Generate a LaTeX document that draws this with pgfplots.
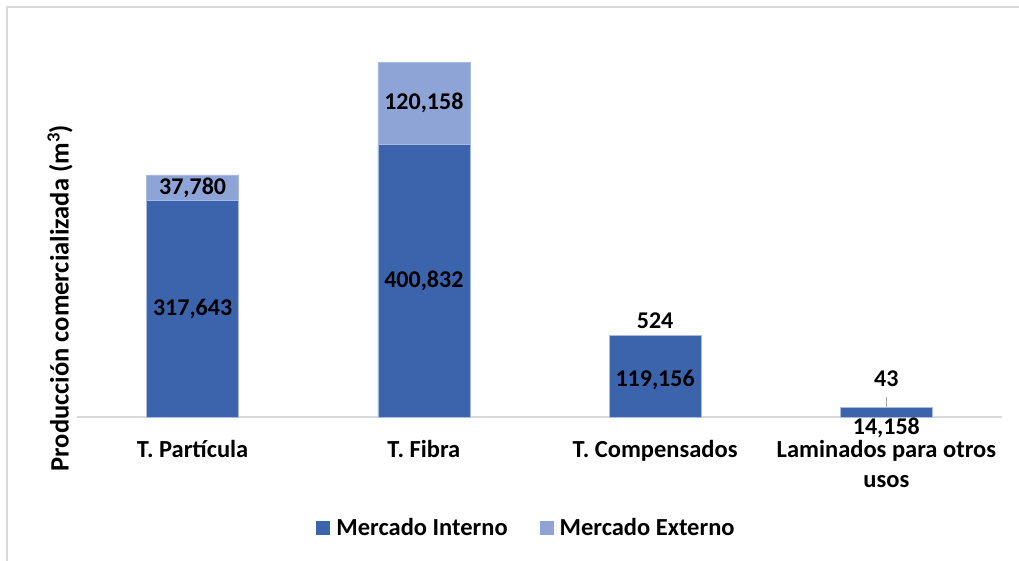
\documentclass[border=0pt]{standalone}
\usepackage{fontspec}
\setmainfont{Carlito}[BoldFont={Carlito Bold}]
\usepackage{pgfplots}
\pgfplotsset{compat=1.18}
\definecolor{dark}{HTML}{3B64AD}
\definecolor{light}{HTML}{8FA4D6}
\definecolor{edge}{HTML}{A8BBE2}
\definecolor{frame}{HTML}{D9D9D9}
\begin{document}
\begin{tikzpicture}[x=1pt,y=1pt,font=\fontsize{24}{29}\selectfont\bfseries]
\useasboundingbox (0,0) rectangle (1019,560);
\draw[frame, line width=1.5pt] (7,-5) -- (7,553) -- (1025,553);
\begin{axis}[
  at={(77pt,143pt)}, anchor=south west,
  scale only axis, width=925pt, height=377pt,
  ybar stacked, bar width=92pt,
  xmin=-0.5, xmax=3.5, ymin=0, ymax=553600,
  clip=false,
  axis x line*=bottom, axis y line=none,
  x axis line style={frame, line width=1.5pt, -},
  xtick={0,1,2,3},
  xticklabels={T. Partícula, T. Fibra, T. Compensados, {Laminados para otros\\usos}},
  xtick style={draw=none}, major tick length=0pt,
  xticklabel style={align=center, anchor=north, yshift=-20pt, font=\fontsize{24.5}{30}\selectfont\bfseries},
  legend style={draw=none, fill=none, legend columns=2,
    at={(axis description cs:0.486,-0.294)}, anchor=center,
    /tikz/every even column/.append style={column sep=30pt},
    font=\fontsize{24.5}{29}\selectfont\bfseries},
  legend image code/.code={\fill[#1,draw=none] (0pt,-7pt) rectangle (14pt,7pt); \path[draw=none,fill=none] (0pt,0pt) -- (18pt,0pt);},
]
\addplot[fill=dark, draw=edge, line width=0.75pt] coordinates {(0,317643) (1,400832) (2,119156) (3,14158)};
\addlegendentry{Mercado Interno}
\addplot[fill=light, draw=edge, line width=0.75pt] coordinates {(0,37780) (1,120158) (2,524) (3,43)};
\addlegendentry{Mercado Externo}
\coordinate (l1) at (axis cs:0,158821);
\coordinate (l2) at (axis cs:0,336533);
\coordinate (l3) at (axis cs:1,200416);
\coordinate (l4) at (axis cs:1,460911);
\coordinate (l5) at (axis cs:2,55000);
\coordinate (l6) at (axis cs:2,141000);
\coordinate (l7) at (axis cs:3,55800);
\coordinate (l8) at (axis cs:3,-16150);
\coordinate (k1) at (axis cs:3,29400);
\coordinate (k2) at (axis cs:3,14500);
\end{axis}
\node at (l1) {317,643};
\node at (l2) {37,780};
\node at (l3) {400,832};
\node at (l4) {120,158};
\node at (l5) {119,156};
\node at (l6) {524};
\node at (l7) {43};
\node at (l8) {14,158};
\draw[gray!70, line width=1pt] (k1) -- (k2);
\node[rotate=90, font=\fontsize{26.5}{30}\selectfont\bfseries] at (60,262) {Producción comercializada (m\textsuperscript{3})};
\end{tikzpicture}
\end{document}
